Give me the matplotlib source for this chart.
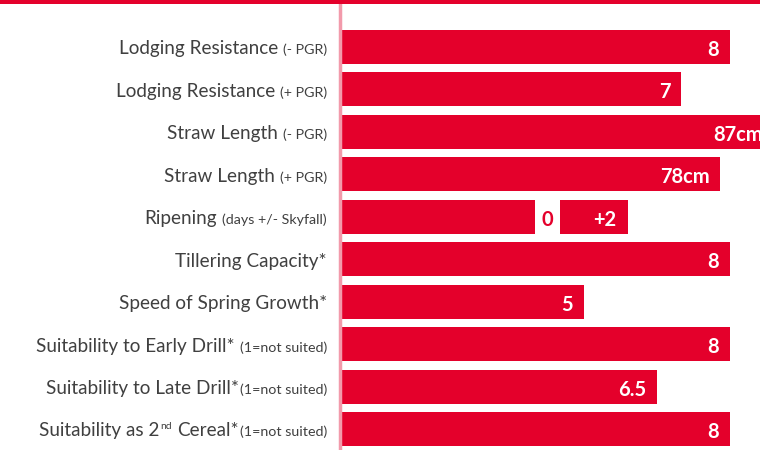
import matplotlib.pyplot as plt
import matplotlib.transforms as mtransforms
from matplotlib.patches import Rectangle

# label pieces: (text, style) - style is "main", "note" or "sup"
label_parts = [
    [("Lodging Resistance", "main"), ("(- PGR)", "note")],
    [("Lodging Resistance", "main"), ("(+ PGR)", "note")],
    [("Straw Length", "main"), ("(- PGR)", "note")],
    [("Straw Length", "main"), ("(+ PGR)", "note")],
    [("Ripening", "main"), ("(days +/- Skyfall)", "note")],
    [("Tillering Capacity*", "main")],
    [("Speed of Spring Growth*", "main")],
    [("Suitability to Early Drill*", "main"), ("(1=not suited)", "note")],
    [("Suitability to Late Drill*", "main"), ("(1=not suited)", "note_tight")],
    [("Suitability as 2", "main"), ("nd", "sup"), ("Cereal*", "main_sp"),
     ("(1=not suited)", "note_tight")],
]

# bar lengths on the 1-9 style scale (straw length bar runs off the right edge)
values = [8, 7, 8.9, 7.8, None, 8, 5, 8, 6.5, 8]
value_labels = ["8", "7", "87cm", "78cm", None, "8", "5", "8", "6.5", "8"]

# ripening row: reference bar, gap showing "0", then the +2 days bar
ripening_row = 4
ripening_base = 4.0
ripening_gap = 0.5
ripening_change = 1.4
ripening_labels = ["0", "+2"]

red = "#e4002b"
grey = "#404040"
W, H, DPI = 760, 450, 100

plt.rcParams["font.family"] = ["Lato", "DejaVu Sans"]

fig = plt.figure(figsize=(W / DPI, H / DPI), dpi=DPI)
top_band = 4  # px
ax = fig.add_axes([340 / W, 0, 1 - 340 / W, 1 - top_band / H])
fig.add_artist(Rectangle((0, 1 - top_band / H), 1, top_band / H,
                         transform=fig.transFigure, color=red, lw=0))

n = len(label_parts)
bar_h = 0.8
val_fs = 14.5

for i, v in enumerate(values):
    if v is None:
        continue
    ax.barh(i, v, height=bar_h, color=red, lw=0)
    ax.annotate(value_labels[i], (v, i), xytext=(-8, -6.5), textcoords="offset points",
                ha="right", va="baseline", color="white", fontsize=val_fs, fontweight="bold",
                annotation_clip=False)

# ripening
ax.barh(ripening_row, ripening_base, height=bar_h, color=red, lw=0)
start2 = ripening_base + ripening_gap
ax.barh(ripening_row, ripening_change, left=start2, height=bar_h, color=red, lw=0)
ax.annotate(ripening_labels[0], (ripening_base + ripening_gap / 2, ripening_row),
            xytext=(0, -6.5), textcoords="offset points", ha="center", va="baseline",
            color=red, fontsize=val_fs, fontweight="bold")
ax.annotate(ripening_labels[1], (start2 + ripening_change, ripening_row),
            xytext=(-8, -6.5), textcoords="offset points", ha="right", va="baseline",
            color="white", fontsize=val_fs, fontweight="bold")

ax.set_xlim(0, 8.61)
ax.set_ylim(9.49, -1.01)
ax.set_xticks([])
ax.set_yticks([])
for s in ["top", "right", "bottom"]:
    ax.spines[s].set_visible(False)
ax.spines["left"].set_color("#f29aab")
ax.spines["left"].set_linewidth(2.5)

# category labels built right to left from pieces of different sizes
styles = {
    "main": dict(size=13.6, gap=0, dy=0),
    "main_sp": dict(size=13.6, gap=5, dy=0),
    "note": dict(size=10.3, gap=5, dy=0),
    "note_tight": dict(size=10.3, gap=1, dy=0),
    "sup": dict(size=7.5, gap=1, dy=7),
}
renderer = fig.canvas.get_renderer()
base_tr = ax.get_yaxis_transform()
for i, parts in enumerate(label_parts):
    x_px = -13  # right edge offset from the axis line, px
    for k in range(len(parts) - 1, -1, -1):
        txt, sty = parts[k]
        st = styles[sty]
        tr = base_tr + mtransforms.ScaledTranslation(x_px / DPI, (-7.3 + st["dy"]) / DPI,
                                                    fig.dpi_scale_trans)
        t = ax.text(0, i, txt, transform=tr, ha="right", va="baseline",
                    fontsize=st["size"], color=grey)
        w = t.get_window_extent(renderer).width
        x_px -= w
        # gap before this piece belongs to the piece on its right
        if k > 0:
            x_px -= st["gap"]

fig.savefig("out.png", dpi=DPI)
